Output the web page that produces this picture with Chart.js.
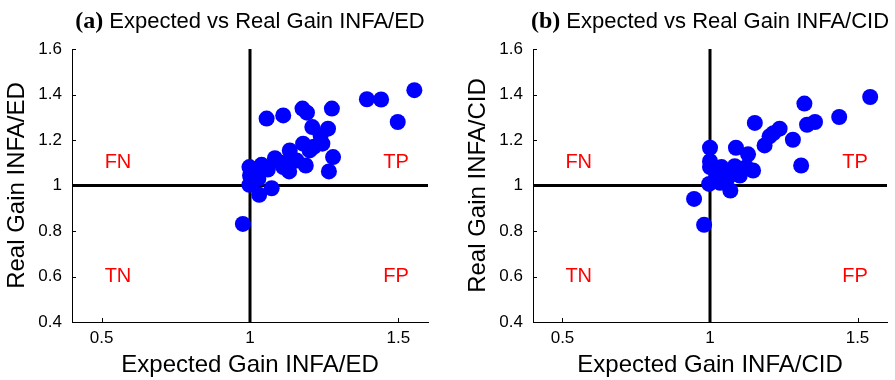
<!DOCTYPE html>
<html>
<head>
<meta charset="utf-8">
<script src="https://cdn.jsdelivr.net/npm/chart.js@4/dist/chart.umd.min.js"></script>
<style>
  html, body { margin: 0; padding: 0; background: #fff; }
  #wrap { position: relative; width: 895px; height: 380px; overflow: hidden; }
  canvas { position: absolute; top: 0; }
  #ca { left: 0; }
  #cb { left: 461px; }
</style>
</head>
<body>
<div id="wrap">
  <canvas id="ca" width="450" height="380"></canvas>
  <canvas id="cb" width="434" height="380"></canvas>
</div>
<script>
// ---- data ----
const xTicks = [0.5, 1, 1.5];
const yTicks = [0.4, 0.6, 0.8, 1, 1.2, 1.4, 1.6];

const expectedED = [0.976, 1.056, 1.112, 1.177, 1.192, 1.276, 1.394, 1.442, 1.554, 1.498,
                    1.210, 1.263, 1.244, 1.179, 1.201, 1.134, 1.280, 1.266, 1.188, 1.157,
                    1.084, 1.112, 1.132, 1.039, 0.998, 1.000, 1.028, 0.998, 1.073, 1.031,
                    1.238, 1.105, 1.140, 1.010, 1.060, 1.215];
const realED     = [0.831, 1.294, 1.308, 1.338, 1.320, 1.338, 1.379, 1.378, 1.419, 1.279,
                    1.257, 1.250, 1.184, 1.184, 1.154, 1.154, 1.125, 1.062, 1.088, 1.110,
                    1.120, 1.081, 1.062, 1.091, 1.081, 1.044, 1.029, 1.003, 0.988, 0.959,
                    1.220, 1.100, 1.120, 1.060, 1.070, 1.170];

const expectedCID = [1.543, 1.320, 1.438, 1.356, 1.329, 1.152, 1.236, 1.202, 1.185, 1.281,
                     1.309, 1.088, 1.000, 1.129, 1.000, 0.946, 0.980, 1.069, 1.000, 1.039,
                     1.084, 1.123, 1.146, 1.101, 1.062, 1.022, 0.997, 1.034, 1.060, 1.110,
                     1.020, 1.215];
const realCID     = [1.389, 1.360, 1.301, 1.279, 1.267, 1.275, 1.250, 1.216, 1.176, 1.201,
                     1.088, 1.166, 1.166, 1.137, 1.107, 0.941, 0.827, 0.978, 1.081, 1.081,
                     1.085, 1.081, 1.066, 1.044, 1.037, 1.044, 1.007, 1.012, 1.060, 1.070,
                     1.020, 1.230];

const quadrantText = ['FN', 'TP', 'TN', 'FP'];
const quadrantX = [0.555, 1.492, 0.555, 1.492];
const quadrantY = [1.1, 1.1, 0.6, 0.6];

const axisMin = 0.4, axisMax = 1.6, threshold = 1;

const SANS = '"Liberation Sans", Arial, Helvetica, sans-serif';
const SERIF = '"Liberation Serif", "Times New Roman", serif';

function makeChart(canvasId, tag, titleText, xLabel, yLabel, xs, ys) {
  const pts = xs.map((x, i) => ({ x: x, y: ys[i] }));
  const decor = {
    id: 'decor',
    afterDatasetsDraw(chart) {
      const ctx = chart.ctx, xs_ = chart.scales.x, ys_ = chart.scales.y, ca = chart.chartArea;
      ctx.save();
      // inward tick marks
      ctx.strokeStyle = '#000'; ctx.lineWidth = 1;
      ctx.beginPath();
      xTicks.forEach(v => { const p = Math.round(xs_.getPixelForValue(v)) + 0.5; ctx.moveTo(p, ca.bottom); ctx.lineTo(p, ca.bottom - 4); });
      yTicks.forEach(v => { const p = Math.round(ys_.getPixelForValue(v)) + 0.5; ctx.moveTo(ca.left, p); ctx.lineTo(ca.left + 4, p); });
      ctx.stroke();
      // quadrant labels
      ctx.fillStyle = '#ff0000';
      ctx.font = '20px ' + SANS;
      ctx.textAlign = 'center'; ctx.textBaseline = 'middle';
      quadrantText.forEach((t, i) => ctx.fillText(t, xs_.getPixelForValue(quadrantX[i]), ys_.getPixelForValue(quadrantY[i])));
      // title: bold serif tag + sans text
      ctx.fillStyle = '#000';
      ctx.textAlign = 'left'; ctx.textBaseline = 'alphabetic';
      const fTag = 'bold 24px ' + SERIF, fTxt = '22px ' + SANS;
      ctx.font = fTag; const wTag = ctx.measureText(tag + ' ').width;
      ctx.font = fTxt; const wTxt = ctx.measureText(titleText).width;
      let x0 = (ca.left + ca.right) / 2 - (wTag + wTxt) / 2;
      const base = 28;
      ctx.font = fTag; ctx.fillText(tag + ' ', x0, base);
      ctx.font = fTxt; ctx.fillText(titleText, x0 + wTag, base);
      ctx.restore();
    }
  };
  return new Chart(document.getElementById(canvasId), {
    type: 'scatter',
    data: {
      datasets: [
        { data: pts, backgroundColor: '#0000ff', borderWidth: 0, pointRadius: 8, pointHoverRadius: 8, order: 0 },
        { type: 'line', data: [{ x: axisMin, y: threshold }, { x: axisMax, y: threshold }], borderColor: '#000', borderWidth: 3, pointRadius: 0, fill: false, order: 1 },
        { type: 'line', data: [{ x: threshold, y: axisMin }, { x: threshold, y: axisMax }], borderColor: '#000', borderWidth: 3, pointRadius: 0, fill: false, order: 1 }
      ]
    },
    options: {
      responsive: false,
      devicePixelRatio: 1,
      animation: false,
      events: [],
      layout: { padding: { top: 49, right: canvasId === 'ca' ? 22 : 6, bottom: 0, left: 0 } },
      plugins: { legend: { display: false }, tooltip: { enabled: false }, title: { display: false } },
      scales: {
        x: {
          type: 'linear', min: axisMin, max: axisMax,
          afterBuildTicks: s => { s.ticks = xTicks.map(v => ({ value: v })); },
          afterFit: s => { s.height = 58; },
          grid: { display: false, drawTicks: false },
          border: { display: true, color: '#000', width: 1 },
          ticks: { color: '#000', font: { family: SANS, size: 17 }, padding: 6, maxRotation: 0, callback: v => String(v) },
          title: { display: true, text: xLabel, color: '#000', font: { family: SANS, size: 24 }, padding: { top: 0, bottom: 0 } }
        },
        y: {
          type: 'linear', min: axisMin, max: axisMax,
          afterBuildTicks: s => { s.ticks = yTicks.map(v => ({ value: v })); },
          afterFit: s => { s.width = 72; },
          grid: { display: false, drawTicks: false },
          border: { display: true, color: '#000', width: 1 },
          ticks: { color: '#000', font: { family: SANS, size: 17 }, padding: 10, callback: v => String(v) },
          title: { display: true, text: yLabel, color: '#000', font: { family: SANS, size: 24 }, padding: { top: 3, bottom: 0 } }
        }
      }
    },
    plugins: [decor]
  });
}

makeChart('ca', '(a)', 'Expected vs Real Gain INFA/ED', 'Expected Gain INFA/ED', 'Real Gain INFA/ED', expectedED, realED);
makeChart('cb', '(b)', 'Expected vs Real Gain INFA/CID', 'Expected Gain INFA/CID', 'Real Gain INFA/CID', expectedCID, realCID);
</script>
</body>
</html>
